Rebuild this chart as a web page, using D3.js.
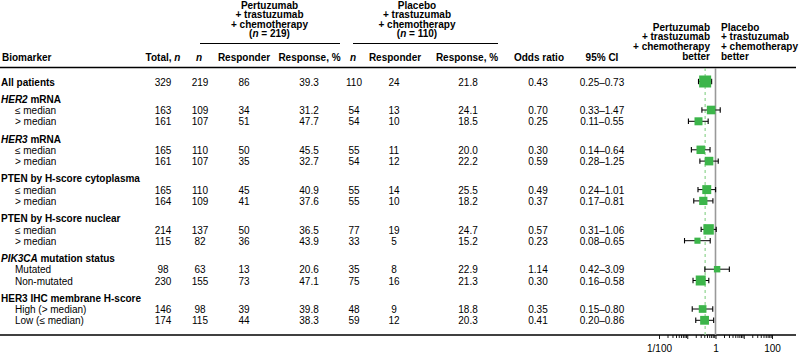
<!DOCTYPE html>
<html>
<head>
<meta charset="utf-8">
<script src="https://cdn.jsdelivr.net/npm/d3@7"></script>
<style>
  html, body { margin: 0; padding: 0; background: #fff; }
  svg { display: block; font-family: "Liberation Sans", Arial, Helvetica, sans-serif; font-size: 10px; }
</style>
</head>
<body>
<svg id="chart" width="800" height="353"></svg>
<script>
// ---------------- DATA ----------------
const rowLabels = ["All patients", "*HER2* mRNA", "≤ median", "> median", "*HER3* mRNA", "≤ median", "> median",
  "PTEN by H-score cytoplasma", "≤ median", "> median", "PTEN by H-score nuclear", "≤ median", "> median",
  "*PIK3CA* mutation status", "Mutated", "Non-mutated", "HER3 IHC membrane H-score", "High (> median)", "Low (≤ median)"];
const rowKinds = ["all", "group", "sub", "sub", "group", "sub", "sub", "group", "sub", "sub", "group", "sub", "sub",
  "group", "sub", "sub", "group", "sub", "sub"];
const totalN = [329, null, 163, 161, null, 165, 161, null, 165, 164, null, 214, 115, null, 98, 230, null, 146, 174];
const pertN = [219, null, 109, 107, null, 110, 107, null, 110, 109, null, 137, 82, null, 63, 155, null, 98, 115];
const pertResponders = [86, null, 34, 51, null, 50, 35, null, 45, 41, null, 50, 36, null, 13, 73, null, 39, 44];
const pertResponsePct = [39.3, null, 31.2, 47.7, null, 45.5, 32.7, null, 40.9, 37.6, null, 36.5, 43.9, null, 20.6, 47.1, null, 39.8, 38.3];
const placN = [110, null, 54, 54, null, 55, 54, null, 55, 55, null, 77, 33, null, 35, 75, null, 48, 59];
const placResponders = [24, null, 13, 10, null, 11, 12, null, 14, 10, null, 19, 5, null, 8, 16, null, 9, 12];
const placResponsePct = [21.8, null, 24.1, 18.5, null, 20.0, 22.2, null, 25.5, 18.2, null, 24.7, 15.2, null, 22.9, 21.3, null, 18.8, 20.3];
const oddsRatio = [0.43, null, 0.70, 0.25, null, 0.30, 0.59, null, 0.49, 0.37, null, 0.57, 0.23, null, 1.14, 0.30, null, 0.35, 0.41];
const ciLow = [0.25, null, 0.33, 0.11, null, 0.14, 0.28, null, 0.24, 0.17, null, 0.31, 0.08, null, 0.42, 0.16, null, 0.15, 0.20];
const ciHigh = [0.73, null, 1.47, 0.55, null, 0.64, 1.25, null, 1.01, 0.81, null, 1.06, 0.65, null, 3.09, 0.58, null, 0.80, 0.86];

const armHeaders = [["Pertuzumab", "+ trastuzumab", "+ chemotherapy", "(*n* = 219)"],
                    ["Placebo", "+ trastuzumab", "+ chemotherapy", "(*n* = 110)"]];
const forestLeftLabel = ["Pertuzumab", "+ trastuzumab", "+ chemotherapy", "better"];
const forestRightLabel = ["Placebo", "+ trastuzumab", "+ chemotherapy", "better"];
const columnHeaders = ["Total, *n*", "*n*", "Responder", "Response, %", "*n*", "Responder", "Response, %", "Odds ratio", "95% CI"];
const axisMajorTicks = [0.01, 0.1, 1, 10, 100];
const axisTickLabels = {0.01: "1/100", 1: "1", 100: "100"};
const overallOR = oddsRatio[0];

// ---------------- LAYOUT ----------------
const svg = d3.select("#chart");
const colX = [163, 200, 244, 309, 354, 394, 468, 538, 602];
const headerColX = [163, 199, 244, 309.5, 353, 395, 467, 539, 602];

// rich text: *...* segments are italic
function rich(sel, str) {
  const parts = str.split("*");
  parts.forEach((p, i) => {
    if (p === "") return;
    sel.append("tspan").attr("font-style", i % 2 === 1 ? "italic" : null).text(p);
  });
}

// row y positions
let yPos = [];
{
  let y = 82, gap = 0;
  rowKinds.forEach((k, i) => {
    if (i > 0) { y += 11.3; if (k === "group") y += 5.9; }
    yPos.push(y);
  });
}

// ---------------- HEADERS ----------------
const armCenters = [269.5, 417];
const armRules = [[200, 340], [353, 498]];
armHeaders.forEach((lines, a) => {
  lines.forEach((l, j) => {
    const t = svg.append("text").attr("x", armCenters[a]).attr("y", 8.5 + j * 9.5)
      .attr("text-anchor", "middle").attr("font-weight", "bold");
    rich(t, l);
  });
  svg.append("line").attr("x1", armRules[a][0]).attr("x2", armRules[a][1])
    .attr("y1", 43.5).attr("y2", 43.5).attr("stroke", "#000").attr("stroke-width", 1);
});

svg.append("text").attr("x", 2).attr("y", 60.6).attr("font-weight", "bold").text("Biomarker");
columnHeaders.forEach((h, i) => {
  const t = svg.append("text").attr("x", headerColX[i]).attr("y", 60.6)
    .attr("text-anchor", "middle").attr("font-weight", "bold");
  rich(t, h);
});

forestLeftLabel.forEach((l, j) => {
  svg.append("text").attr("x", 710).attr("y", 30.6 + j * 9.8)
    .attr("text-anchor", "end").attr("font-weight", "bold").text(l);
});
forestRightLabel.forEach((l, j) => {
  svg.append("text").attr("x", 721).attr("y", 30.6 + j * 9.8)
    .attr("font-weight", "bold").text(l);
});

// rules
svg.append("line").attr("x1", 0).attr("x2", 796).attr("y1", 67.5).attr("y2", 67.5)
  .attr("stroke", "#000").attr("stroke-width", 1.5);
const bottomY = 335;
svg.append("line").attr("x1", 0).attr("x2", 796).attr("y1", bottomY).attr("y2", bottomY)
  .attr("stroke", "#000").attr("stroke-width", 1.5);

// ---------------- TABLE ROWS ----------------
rowLabels.forEach((lab, i) => {
  const k = rowKinds[i];
  const t = svg.append("text").attr("x", k === "sub" ? 15 : 1).attr("y", yPos[i] + 3.6)
    .attr("font-weight", k === "sub" ? null : "bold");
  rich(t, lab);
  if (totalN[i] == null) return;
  const vals = [totalN[i], pertN[i], pertResponders[i], pertResponsePct[i].toFixed(1),
    placN[i], placResponders[i], placResponsePct[i].toFixed(1), oddsRatio[i].toFixed(2),
    ciLow[i].toFixed(2) + "–" + ciHigh[i].toFixed(2)];
  vals.forEach((v, c) => {
    svg.append("text").attr("x", colX[c]).attr("y", yPos[i] + 3.6)
      .attr("text-anchor", "middle").text(v);
  });
});

// ---------------- FOREST PLOT ----------------
const x = d3.scaleLog().domain([0.01, 100]).range([659, 772]);

svg.append("line").attr("x1", x(1)).attr("x2", x(1)).attr("y1", 68).attr("y2", bottomY)
  .attr("stroke", "#999").attr("stroke-width", 1.6);
svg.append("line").attr("x1", x(overallOR)).attr("x2", x(overallOR)).attr("y1", 68).attr("y2", bottomY)
  .attr("stroke", "#8fd48f").attr("stroke-width", 1.2).attr("stroke-dasharray", "3,3");

const se = (i) => Math.log(ciHigh[i] / ciLow[i]) / 3.92;
const seAll = se(0);
const g = svg.append("g");
rowKinds.forEach((k, i) => {
  if (oddsRatio[i] == null) return;
  const y = yPos[i] - 0.5;
  const x1 = x(ciLow[i]), x2 = x(ciHigh[i]);
  g.append("line").attr("x1", x1).attr("x2", x2).attr("y1", y).attr("y2", y)
    .attr("stroke", "#000").attr("stroke-width", 1);
  [x1, x2].forEach(xx => g.append("line").attr("x1", xx).attr("x2", xx)
    .attr("y1", y - 2.7).attr("y2", y + 2.7).attr("stroke", "#000").attr("stroke-width", 1.1));
  const s = 12 * seAll / se(i);
  g.append("rect").attr("x", x(oddsRatio[i]) - s / 2).attr("y", y - s / 2)
    .attr("width", s).attr("height", s).attr("fill", "#3cb54a");
});

// axis
const minorTicks = [];
[0.01, 0.1, 1, 10].forEach(b => { for (let m = 2; m <= 9; m++) minorTicks.push(b * m); });
const axMinor = d3.axisBottom(x).tickValues(minorTicks).tickSize(3).tickFormat("");
const axMajor = d3.axisBottom(x).tickValues(axisMajorTicks).tickSize(4).tickPadding(5.5)
  .tickFormat(d => axisTickLabels[d] || "");
const ga = svg.append("g").attr("transform", `translate(0,${bottomY})`).call(axMinor);
const gb = svg.append("g").attr("transform", `translate(0,${bottomY})`).call(axMajor);
[ga, gb].forEach(s => {
  s.select(".domain").remove();
  s.selectAll("line").attr("stroke", "#000").attr("stroke-width", 0.9);
  s.selectAll("text").attr("font-size", 10).attr("fill", "#000")
    .attr("font-family", '"Liberation Sans", Arial, sans-serif');
});
</script>
</body>
</html>
